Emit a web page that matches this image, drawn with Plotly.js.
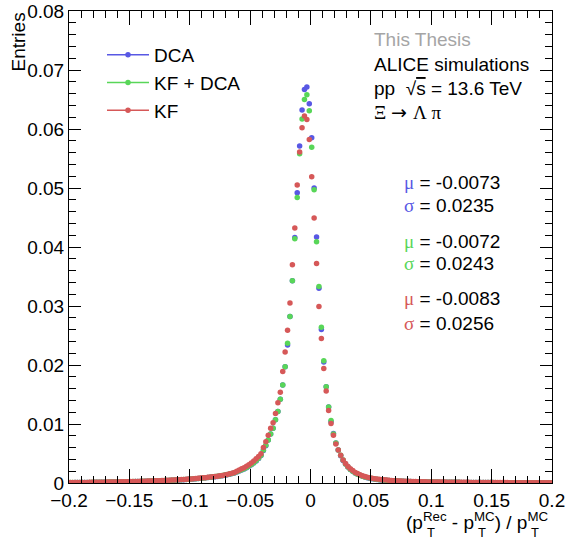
<!DOCTYPE html>
<html>
<head>
<meta charset="utf-8">
<script src="https://cdn.plot.ly/plotly-3.0.1.min.js"></script>
<style>html,body{margin:0;padding:0;background:#fff;}#plot{width:567px;height:540px;}</style>
</head>
<body>
<div id="plot"></div>
<script>
// Histogram: 200 bins of width 0.002 from -0.2 to 0.2 (first bin centre -0.199)
var binStart = -0.199;
var binWidth = 0.002;

var seriesNames = ["DCA", "KF + DCA", "KF"];

var dcaValues = [
0.00006,0.00006,0.00007,0.00007,0.00008,0.00008,0.00009,0.00009,0.00010,0.00010,
0.00011,0.00011,0.00012,0.00012,0.00013,0.00013,0.00014,0.00015,0.00015,0.00016,
0.00017,0.00018,0.00019,0.00020,0.00021,0.00022,0.00023,0.00024,0.00025,0.00026,
0.00027,0.00028,0.00030,0.00031,0.00032,0.00034,0.00035,0.00037,0.00038,0.00040,
0.00042,0.00044,0.00046,0.00048,0.00050,0.00052,0.00054,0.00056,0.00059,0.00062,
0.00065,0.00068,0.00071,0.00075,0.00079,0.00083,0.00087,0.00092,0.00097,0.00102,
0.00107,0.00112,0.00118,0.00125,0.00132,0.00140,0.00149,0.00159,0.00171,0.00186,
0.00203,0.00220,0.00238,0.00258,0.00282,0.00309,0.00340,0.00375,0.00415,0.00465,
0.0055,0.0063,0.0073,0.0083,0.0093,0.0107,0.0121,0.0142,0.0166,0.0197,
0.0234,0.0282,0.0343,0.0416,0.0492,0.0571,0.0632,0.0667,0.0671,0.0643,
0.0585,0.0500,0.0417,0.0330,0.0260,0.0205,0.0163,0.0129,0.0104,0.0084,
0.0068,0.0056,0.0046,0.0038,0.0032,0.0027,0.0023,0.0020,0.0017,0.0015,
0.0013,0.00115,0.00102,0.00091,0.00082,0.00074,0.00067,0.00061,0.00056,0.00052,
0.00048,0.00045,0.00042,0.00039,0.00037,0.00034,0.00032,0.00030,0.00028,0.00027,
0.00025,0.00024,0.00023,0.00022,0.00021,0.00020,0.00019,0.00018,0.00017,0.00016,
0.00016,0.00015,0.00015,0.00014,0.00014,0.00013,0.00013,0.00012,0.00012,0.00011,
0.00011,0.00011,0.00010,0.00010,0.00010,0.00009,0.00009,0.00009,0.00008,0.00008,
0.00008,0.00008,0.00007,0.00007,0.00007,0.00007,0.00006,0.00006,0.00006,0.00006,
0.00006,0.00005,0.00005,0.00005,0.00005,0.00005,0.00005,0.00004,0.00004,0.00004,
0.00004,0.00004,0.00004,0.00004,0.00004,0.00003,0.00003,0.00003,0.00003,0.00003
];

var kfDcaValues = [
0.00007,0.00007,0.00007,0.00008,0.00008,0.00009,0.00009,0.00010,0.00010,0.00011,
0.00011,0.00012,0.00012,0.00013,0.00013,0.00014,0.00015,0.00015,0.00016,0.00017,
0.00018,0.00019,0.00020,0.00021,0.00022,0.00023,0.00024,0.00025,0.00026,0.00027,
0.00028,0.00029,0.00031,0.00032,0.00034,0.00035,0.00037,0.00038,0.00040,0.00042,
0.00044,0.00046,0.00048,0.00050,0.00052,0.00054,0.00056,0.00058,0.00061,0.00064,
0.00067,0.00070,0.00073,0.00077,0.00081,0.00085,0.00089,0.00094,0.00099,0.00104,
0.00109,0.00114,0.00120,0.00127,0.00134,0.00142,0.00151,0.00161,0.00173,0.00189,
0.00206,0.00224,0.00243,0.00263,0.00287,0.00314,0.00345,0.00380,0.00420,0.00470,
0.0056,0.0064,0.0073,0.0083,0.0093,0.0107,0.0121,0.0142,0.0166,0.0197,
0.0237,0.0282,0.0343,0.0414,0.0484,0.0558,0.0617,0.0650,0.0658,0.0631,
0.0569,0.0497,0.0409,0.0333,0.0264,0.0207,0.0163,0.0129,0.0106,0.0083,
0.0068,0.0056,0.0047,0.0039,0.0032,0.0027,0.0023,0.0020,0.0017,0.0015,
0.0013,0.00116,0.00103,0.00092,0.00083,0.00075,0.00068,0.00062,0.00057,0.00053,
0.00049,0.00046,0.00043,0.00040,0.00037,0.00035,0.00033,0.00031,0.00029,0.00027,
0.00026,0.00025,0.00023,0.00022,0.00021,0.00020,0.00019,0.00018,0.00017,0.00017,
0.00016,0.00015,0.00015,0.00014,0.00014,0.00013,0.00013,0.00012,0.00012,0.00011,
0.00011,0.00011,0.00010,0.00010,0.00010,0.00009,0.00009,0.00009,0.00009,0.00008,
0.00008,0.00008,0.00008,0.00007,0.00007,0.00007,0.00007,0.00006,0.00006,0.00006,
0.00006,0.00006,0.00005,0.00005,0.00005,0.00005,0.00005,0.00005,0.00004,0.00004,
0.00004,0.00004,0.00004,0.00004,0.00004,0.00004,0.00003,0.00003,0.00003,0.00003
];

var kfValues = [
0.00007,0.00007,0.00008,0.00008,0.00009,0.00009,0.00010,0.00010,0.00011,0.00011,
0.00012,0.00012,0.00013,0.00013,0.00014,0.00015,0.00015,0.00016,0.00017,0.00018,
0.00019,0.00020,0.00021,0.00022,0.00023,0.00024,0.00025,0.00026,0.00027,0.00029,
0.00030,0.00031,0.00033,0.00034,0.00036,0.00037,0.00039,0.00040,0.00042,0.00044,
0.00046,0.00048,0.00050,0.00052,0.00054,0.00056,0.00058,0.00060,0.00063,0.00066,
0.00069,0.00072,0.00075,0.00079,0.00083,0.00087,0.00091,0.00096,0.00101,0.00106,
0.00110,0.00115,0.00121,0.00128,0.00136,0.00145,0.00155,0.00167,0.00180,0.00200,
0.00222,0.00240,0.00260,0.00283,0.00310,0.00340,0.00373,0.00410,0.00450,0.00495,
0.0060,0.0070,0.0081,0.0093,0.0102,0.0118,0.0136,0.0154,0.0189,0.0222,
0.0259,0.0305,0.0370,0.0432,0.0505,0.0561,0.0602,0.0622,0.0616,0.0582,
0.0519,0.0449,0.0372,0.0299,0.0245,0.0194,0.0156,0.0123,0.0101,0.0081,
0.0066,0.0056,0.0047,0.0039,0.0033,0.0028,0.0024,0.0021,0.0018,0.0016,
0.0014,0.00125,0.00110,0.00098,0.00088,0.00080,0.00073,0.00067,0.00062,0.00057,
0.00053,0.00049,0.00046,0.00043,0.00040,0.00037,0.00035,0.00033,0.00031,0.00029,
0.00028,0.00026,0.00025,0.00024,0.00023,0.00022,0.00021,0.00020,0.00019,0.00018,
0.00018,0.00017,0.00016,0.00016,0.00015,0.00015,0.00014,0.00014,0.00013,0.00013,
0.00012,0.00012,0.00012,0.00011,0.00011,0.00011,0.00010,0.00010,0.00010,0.00009,
0.00009,0.00009,0.00009,0.00008,0.00008,0.00008,0.00008,0.00007,0.00007,0.00007,
0.00007,0.00007,0.00006,0.00006,0.00006,0.00006,0.00006,0.00006,0.00005,0.00005,
0.00005,0.00005,0.00005,0.00005,0.00004,0.00004,0.00004,0.00004,0.00004,0.00004
];

var xTickVals = [-0.2, -0.15, -0.1, -0.05, 0, 0.05, 0.1, 0.15, 0.2];
var xTickText = ["\u22120.2", "\u22120.15", "\u22120.1", "\u22120.05", "0", "0.05", "0.1", "0.15", "0.2"];
var yTickVals = [0, 0.01, 0.02, 0.03, 0.04, 0.05, 0.06, 0.07, 0.08];
var yTickText = ["0", "0.01", "0.02", "0.03", "0.04", "0.05", "0.06", "0.07", "0.08"];

var muValues = ["-0.0073", "-0.0072", "-0.0083"];
var sigmaValues = ["0.0235", "0.0243", "0.0256"];

var colors = ["rgb(88,88,228)", "rgb(88,214,88)", "rgb(214,88,88)"];
var allValues = [dcaValues, kfDcaValues, kfValues];

var FONT = "Liberation Sans, Arial, Helvetica, sans-serif";
var SERIF = "Liberation Serif, Times New Roman, serif";

var traces = [];
for (var s = 0; s < 3; s++) {
  traces.push({
    type: "scatter", mode: "markers",
    x0: binStart, dx: binWidth, y: allValues[s],
    marker: {color: colors[s], size: 5.5, line: {width: 0}},
    showlegend: false, hoverinfo: "skip", cliponaxis: true
  });
}
// legend entries (line + marker, ROOT style)
for (var s = 0; s < 3; s++) {
  traces.push({
    type: "scatter", mode: "lines+markers",
    x: [null], y: [null], name: seriesNames[s],
    line: {color: colors[s], width: 1.5},
    marker: {color: colors[s], size: 5.5},
    legendgroup: "g" + s, showlegend: true
  });
}

var L = 69, R = 552, T = 11, B = 483;
function px(p) { return (p - L) / (R - L); }
function py(p) { return (B - p) / (B - T); }

var annotations = [
  {text: "This Thesis", x: px(372), y: py(40), font: {color: "rgb(165,165,165)"}},
  {text: "ALICE simulations", x: px(372), y: py(64)},
  {text: "pp  \u221A<span style='text-decoration:overline'>s</span> = 13.6 TeV", x: px(372), y: py(88)},
  {text: "<span style='font-family:" + SERIF + "'>\u039E\u00A0</span><span style='font-family:DejaVu Sans'>\u2192\u00A0</span><span style='font-family:" + SERIF + "'>\u039B\u00A0\u03C0</span>", x: px(372), y: py(112)}
];
var statY = [[182, 205], [241, 263], [299, 323]];
for (var s = 0; s < 3; s++) {
  annotations.push({
    text: "<span style='font-family:" + SERIF + ";color:" + colors[s] + "'>\u03BC</span> = " + muValues[s],
    x: px(402), y: py(statY[s][0])
  });
  annotations.push({
    text: "<span style='font-family:" + SERIF + ";color:" + colors[s] + "'>\u03C3</span> = " + sigmaValues[s],
    x: px(402), y: py(statY[s][1])
  });
}
annotations.forEach(function (a) {
  a.xref = "paper"; a.yref = "paper"; a.xanchor = "left"; a.yanchor = "middle";
  a.showarrow = false;
  a.font = Object.assign({family: FONT, size: 19, color: "black"}, a.font || {});
});
// axis titles
annotations.push({
  text: "Entries", xref: "paper", yref: "paper", x: px(18), y: 1.0,
  xanchor: "center", yanchor: "top", textangle: -90, showarrow: false,
  font: {family: FONT, size: 19, color: "black"}
});
// x title: superscripts inline, subscripts "T" stacked beneath them (ROOT style)
annotations.push({
  text: "(p<sup>Rec</sup> - p<sup>MC</sup>) / p<sup>MC</sup>",
  xref: "paper", yref: "paper", x: px(551), y: py(521),
  xanchor: "right", yanchor: "middle", showarrow: false,
  font: {family: FONT, size: 19, color: "black"}
});
[426, 477, 530].forEach(function (xp) {
  annotations.push({
    text: "T", xref: "paper", yref: "paper", x: px(xp), y: py(532),
    xanchor: "left", yanchor: "middle", showarrow: false, borderpad: 0,
    font: {family: FONT, size: 13, color: "black"}
  });
});

var axisCommon = {
  showgrid: false, zeroline: false, showline: true, linecolor: "black", linewidth: 1,
  mirror: "allticks", ticks: "inside", tickcolor: "black", tickwidth: 1,
  tickfont: {family: FONT, size: 19, color: "black"}, tickmode: "array"
};

var layout = {
  width: 567, height: 540,
  margin: {l: L, r: 567 - R, t: T, b: 540 - B},
  paper_bgcolor: "white", plot_bgcolor: "white",
  font: {family: FONT, size: 19, color: "black"},
  xaxis: Object.assign({}, axisCommon, {
    range: [-0.2, 0.2], tickvals: xTickVals, ticktext: xTickText, ticklen: 14,
    minor: {ticks: "inside", ticklen: 7, dtick: 0.01, tick0: 0, tickcolor: "black", tickwidth: 1, showgrid: false}
  }),
  yaxis: Object.assign({}, axisCommon, {
    range: [0, 0.08], tickvals: yTickVals, ticktext: yTickText, ticklen: 12,
    minor: {ticks: "inside", ticklen: 7, dtick: 0.002, tick0: 0, tickcolor: "black", tickwidth: 1, showgrid: false}
  }),
  legend: {
    x: px(102), y: py(36), xanchor: "left", yanchor: "top",
    bgcolor: "rgba(0,0,0,0)", borderwidth: 0,
    font: {family: FONT, size: 19, color: "black"},
    traceorder: "normal", tracegroupgap: 5, itemwidth: 42
  },
  showlegend: true,
  annotations: annotations
};

Plotly.newPlot("plot", traces, layout, {staticPlot: true, displayModeBar: false});
</script>
</body>
</html>
